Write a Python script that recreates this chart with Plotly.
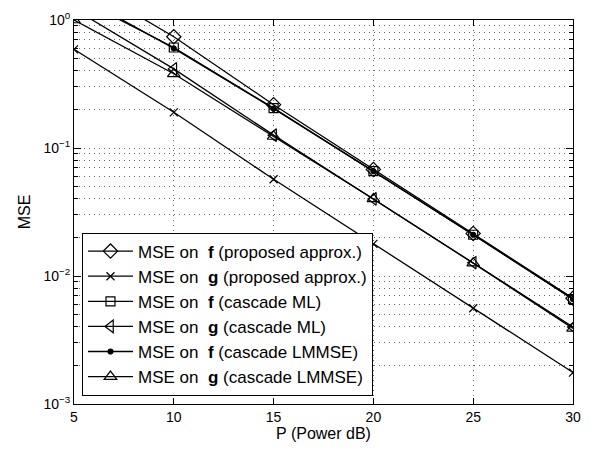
import plotly.graph_objects as go

P = [5, 10, 15, 20, 25, 30]
f_proposed = [2.13, 0.74, 0.218, 0.068, 0.0215, 0.0067]
g_proposed = [0.59, 0.19, 0.057, 0.0178, 0.0056, 0.00176]
f_cascade_ml = [1.53, 0.61, 0.205, 0.066, 0.021, 0.0066]
g_cascade_ml = [1.22, 0.415, 0.126, 0.040, 0.0127, 0.0040]
f_cascade_lmmse = [1.62, 0.60, 0.203, 0.066, 0.021, 0.0066]
g_cascade_lmmse = [1.0, 0.38, 0.123, 0.040, 0.0126, 0.0039]

names = [
    "MSE on  <b>f</b> (proposed approx.)",
    "MSE on  <b>g</b> (proposed approx.)",
    "MSE on  <b>f</b> (cascade ML)",
    "MSE on  <b>g</b> (cascade ML)",
    "MSE on  <b>f</b> (cascade LMMSE)",
    "MSE on  <b>g</b> (cascade LMMSE)",
]
series = [f_proposed, g_proposed, f_cascade_ml, g_cascade_ml, f_cascade_lmmse, g_cascade_lmmse]
symbols = ["diamond-open", "x-thin-open", "square-open", "triangle-left-open", "circle", "triangle-up-open"]
sizes = [11, 8, 9, 11, 5, 11]

y_tickvals = [1, 0.1, 0.01, 0.001]
y_ticktext = ["10<sup>0</sup>", "10<sup>−1</sup>", "10<sup>−2</sup>", "10<sup>−3</sup>"]
y_minor = [m * 10.0 ** k for k in (-3, -2, -1) for m in range(2, 10)]
x_tickvals = [5, 10, 15, 20, 25, 30]

fig = go.Figure()
for name, ys, sym, sz in zip(names, series, symbols, sizes):
    fig.add_trace(go.Scatter(
        x=P, y=ys, name=name, mode="lines+markers",
        line=dict(color="black", width=1.3),
        marker=dict(symbol=sym, size=sz, color="black",
                    line=dict(color="black", width=1.2)),
    ))

FAM = "Liberation Sans, Arial, sans-serif"
axis_font = dict(family=FAM, size=14, color="black")
GRID = "#666"
DASH = "1px,4px"

fig.update_layout(
    width=597, height=451,
    margin=dict(l=74, r=24, t=10, b=47),
    plot_bgcolor="white", paper_bgcolor="white",
    font=axis_font,
    showlegend=True,
    legend=dict(
        x=0.016, y=0.022, xanchor="left", yanchor="bottom",
        bgcolor="white", bordercolor="black", borderwidth=1,
        font=dict(family=FAM, size=17, color="black"),
        itemwidth=45, tracegroupgap=0,
    ),
    xaxis=dict(
        range=[5, 30], tickvals=x_tickvals,
        ticks="inside", ticklen=6, tickcolor="black",
        showline=True, linecolor="black", linewidth=1, mirror="ticks",
        showgrid=True, gridcolor=GRID, griddash=DASH, gridwidth=1,
        zeroline=False,
        title=dict(text="P (Power dB)", font=dict(family=FAM, size=16), standoff=4),
        tickfont=axis_font,
    ),
    yaxis=dict(
        type="log", range=[-3, 0],
        tickmode="array", tickvals=y_tickvals, ticktext=y_ticktext,
        ticks="inside", ticklen=7, tickcolor="black",
        showline=True, linecolor="black", linewidth=1, mirror="ticks",
        showgrid=True, gridcolor=GRID, griddash=DASH, gridwidth=1,
        zeroline=False,
        minor=dict(tickmode="array", tickvals=y_minor, ticks="inside", ticklen=4,
                   tickcolor="black", showgrid=True, gridcolor=GRID,
                   griddash=DASH, gridwidth=1),
        title=dict(text="MSE", font=dict(family=FAM, size=16), standoff=8),
        tickfont=axis_font,
    ),
)

fig.write_html("out.html")
